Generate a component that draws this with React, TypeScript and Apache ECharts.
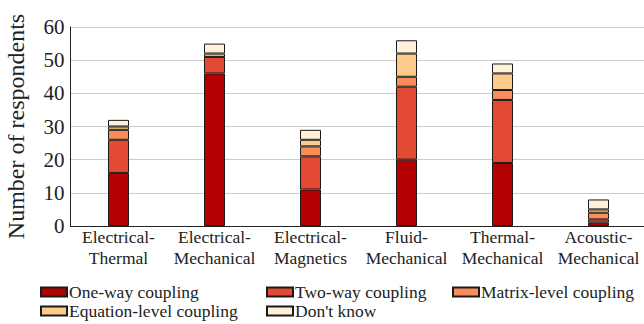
import React, { useEffect, useRef } from "react";
import * as echarts from "echarts";

const categories = [
  "Electrical-\nThermal",
  "Electrical-\nMechanical",
  "Electrical-\nMagnetics",
  "Fluid-\nMechanical",
  "Thermal-\nMechanical",
  "Acoustic-\nMechanical",
];
const seriesNames = [
  "One-way coupling",
  "Two-way coupling",
  "Matrix-level coupling",
  "Equation-level coupling",
  "Don't know",
];
const oneWay = [16, 46, 11, 20, 19, 1];
const twoWay = [10, 5, 10, 22, 19, 1];
const matrixLevel = [3, 0, 3, 3, 3, 2];
const equationLevel = [1, 1, 2, 7, 5, 1];
const dontKnow = [2, 3, 3, 4, 3, 3];
const seriesData = [oneWay, twoWay, matrixLevel, equationLevel, dontKnow];
const colors = ["#b30000", "#e34a33", "#fc8d59", "#fdcc8a", "#fef0d9"];
const yTicks = [0, 10, 20, 30, 40, 50, 60];

const FONT = "Liberation Serif";

export default function App() {
  const ref = useRef<HTMLDivElement>(null);
  useEffect(() => {
    if (!ref.current) return;
    document.body.style.overflow = "hidden";
    const chart = echarts.init(ref.current, null, { renderer: "svg" });
    const legendPos = [
      { left: 40, top: 283 },
      { left: 266, top: 283 },
      { left: 452, top: 283 },
      { left: 40, top: 302 },
      { left: 266, top: 302 },
    ];
    chart.setOption({
      animation: false,
      grid: {
        left: 70.5,
        top: 27,
        width: 576,
        height: 199,
        containLabel: false,
        outerBoundsMode: "none",
      },
      xAxis: {
        type: "category",
        data: categories,
        axisLine: { show: true, lineStyle: { color: "#222", width: 1 } },
        axisTick: { show: false },
        axisLabel: {
          fontFamily: FONT,
          fontSize: 17.5,
          color: "#222",
          lineHeight: 21,
          margin: 0,
          interval: 0,
        },
      },
      yAxis: {
        type: "value",
        min: yTicks[0],
        max: yTicks[yTicks.length - 1],
        interval: 10,
        name: "Number of respondents",
        nameLocation: "middle",
        nameGap: 43,
        nameTextStyle: { fontFamily: FONT, fontSize: 24, color: "#222" },
        axisLine: { show: true, lineStyle: { color: "#222", width: 1 } },
        axisTick: { show: false },
        axisLabel: { fontFamily: FONT, fontSize: 21, color: "#222", margin: 6 },
        splitLine: { show: true, lineStyle: { color: "#cccccc", width: 1 } },
      },
      legend: seriesNames.map((n, i) => ({
        data: [n],
        left: legendPos[i].left,
        top: legendPos[i].top,
        itemWidth: 26,
        itemHeight: 9,
        itemGap: 2,
        padding: 0,
        icon: "rect",
        textStyle: { fontFamily: FONT, fontSize: 17.5, color: "#222", padding: [0, 0, 0, -3] },
      })),
      series: seriesNames.map((n, i) => ({
        name: n,
        type: "bar",
        stack: "total",
        data: seriesData[i],
        barWidth: 21,
        itemStyle: { color: colors[i], borderColor: "#1a1a1a", borderWidth: 1 },
      })),
    });
    return () => chart.dispose();
  }, []);
  return (
    <div
      ref={ref}
      style={{ position: "fixed", left: 0, top: 0, width: 644, height: 324, background: "#fff" }}
    />
  );
}
